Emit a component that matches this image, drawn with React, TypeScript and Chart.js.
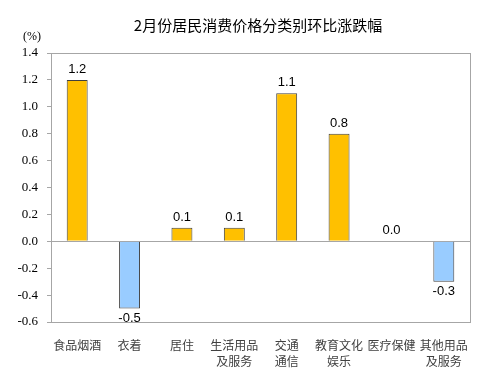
import React, { useEffect, useRef } from "react";
import { Chart, registerables } from "chart.js";

Chart.register(...registerables);

const TITLE = "2月份居民消费价格分类别环比涨跌幅";
const UNIT = "(%)";
const categories: (string | string[])[] = [
  "食品烟酒",
  "衣着",
  "居住",
  ["生活用品", "及服务"],
  ["交通", "通信"],
  ["教育文化", "娱乐"],
  "医疗保健",
  ["其他用品", "及服务"],
];
const values = [1.2, -0.5, 0.1, 0.1, 1.1, 0.8, 0.0, -0.3];
const yMin = -0.6;
const yMax = 1.4;
const yStep = 0.2;

const POS = "#FFC000";
const NEG = "#99CCFF";
const AXIS = "#A6A6A6";
const SERIF = '"Liberation Serif", "Times New Roman", Times, serif';

export default function App() {
  const ref = useRef<HTMLCanvasElement | null>(null);
  useEffect(() => {
    if (!ref.current) return;
    const deco = {
      id: "deco",
      beforeDatasetsDraw(chart: any) {
        const { ctx, chartArea: a } = chart;
        ctx.save();
        ctx.strokeStyle = AXIS;
        ctx.lineWidth = 1;
        ctx.strokeRect(Math.round(a.left) + 0.5, Math.round(a.top) + 0.5, Math.round(a.right - a.left), Math.round(a.bottom - a.top));
        ctx.restore();
      },
      afterDatasetsDraw(chart: any) {
        const { ctx } = chart;
        ctx.save();
        ctx.fillStyle = "#000";
        ctx.font = '13px "Liberation Sans", Arial, sans-serif';
        ctx.textAlign = "center";
        const meta = chart.getDatasetMeta(0);
        const ys = chart.scales.y;
        const zero = ys.getPixelForValue(0);
        meta.data.forEach((bar: any, i: number) => {
          const v = values[i];
          const txt = v.toFixed(1);
          if (v < 0) {
            ctx.textBaseline = "top";
            ctx.fillText(txt, bar.x, bar.y + 3);
          } else {
            ctx.textBaseline = "bottom";
            ctx.fillText(txt, bar.x, Math.min(bar.y, zero) - 4);
          }
        });
        ctx.fillStyle = "#000";
        ctx.font = '15px "Noto Sans CJK SC", sans-serif';
        ctx.textBaseline = "middle";
        ctx.textAlign = "center";
        ctx.fillText(TITLE, 258, 25);
        ctx.font = "12px " + SERIF;
        ctx.fillText(UNIT, 32, 37);
        ctx.restore();
      },
    };
    const chart = new Chart(ref.current, {
      type: "bar",
      data: {
        labels: categories,
        datasets: [
          {
            data: values,
            backgroundColor: values.map((v) => (v < 0 ? NEG : POS)),
            borderColor: "#404040",
            borderWidth: 1,
            categoryPercentage: 1,
            barPercentage: 0.4,
          },
        ],
      },
      options: {
        responsive: false,
        animation: false,
        layout: { padding: { top: 53, right: 12, left: 0, bottom: 0 } },
        plugins: {
          legend: { display: false },
          title: { display: false },
          tooltip: { enabled: false },
        },
        scales: {
          x: {
            grid: { display: false },
            border: { display: true, color: AXIS },
            ticks: {
              color: "#404040",
              font: { family: '"Noto Sans CJK SC", sans-serif', size: 12, lineHeight: 1.333 },
              padding: 7,
              maxRotation: 0,
              autoSkip: false,
            },
            afterFit(s: any) {
              s.height = 48;
            },
          },
          y: {
            min: yMin,
            max: yMax,
            border: { display: true, color: AXIS },
            grid: {
              color: (c: any) => (c.tick && Math.abs(c.tick.value) < 1e-9 ? AXIS : "rgba(0,0,0,0)"),
              tickColor: AXIS,
              tickLength: 4,
              drawOnChartArea: true,
            },
            ticks: {
              stepSize: yStep,
              color: "#000",
              padding: 9,
              font: { family: SERIF, size: 13 },
              callback: (v: any) => Number(v).toFixed(1),
            },
            afterFit(s: any) {
              s.width = 51;
            },
          },
        },
      },
      plugins: [deco],
    });
    return () => chart.destroy();
  }, []);
  return (
    <div style={{ position: "absolute", left: 0, top: 0, width: 482, height: 370, background: "#fff" }}>
      <canvas ref={ref} width={482} height={370} style={{ display: "block" }} />
    </div>
  );
}
